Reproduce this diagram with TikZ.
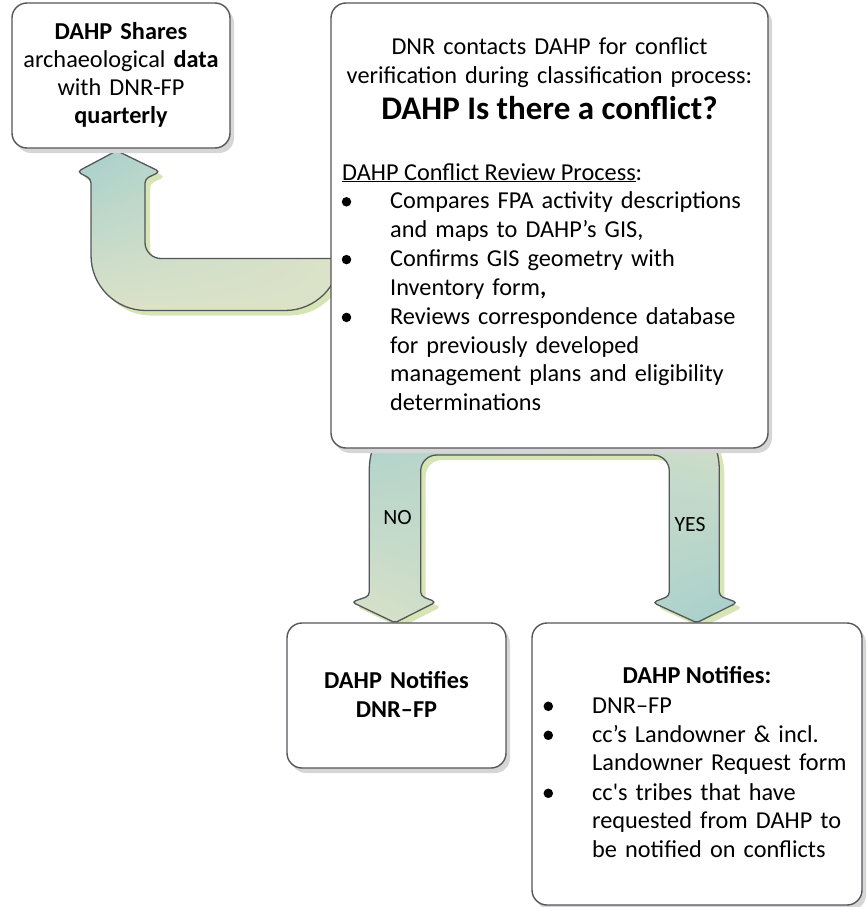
\documentclass[tikz,border=0pt]{standalone}
\usepackage{fontspec}
\setmainfont{Carlito}
\usetikzlibrary{shadows,shadings}
\definecolor{edgec}{RGB}{85,85,92}
\definecolor{tealc}{RGB}{165,207,204}
\definecolor{sagec}{RGB}{219,226,200}
\definecolor{leafc}{RGB}{213,229,179}
\definecolor{shadec}{RGB}{214,214,214}
\newcommand\bodyfont{\fontsize{24.3}{28.9}\selectfont}
\tikzset{
  card/.style={rectangle,draw=edgec,line width=1.4pt,rounded corners=15pt,fill=white,inner sep=0pt,
    drop shadow={shadow xshift=4pt,shadow yshift=-5pt,fill=shadec,opacity=1}},
  txt/.style={inner sep=0pt,font=\bodyfont},
  item/.style={txt,anchor=base west,text width=375pt,align=left},
  dot/.style={circle,fill=black,inner sep=0pt,minimum size=9.5pt},
  flow/.style={draw=edgec,line width=1.3pt,
    preaction={fill=leafc,draw=none,transform canvas={xshift=5pt,yshift=-5pt}}},
  lab/.style={inner sep=0pt,anchor=base,font=\fontsize{21.7}{26}\selectfont},
}
\begin{document}
\begin{tikzpicture}[x=1pt,y=-1pt]
  \useasboundingbox (0,0) rectangle (867,907);
  % block arrows go first, the boxes sit on top of them
  \path[flow,upper left=tealc,upper right=sagec,lower left=sagec,lower right=sagec]
    (340,258.5) [rounded corners=16pt] -- (145,258.5) [rounded corners=4pt] -- (145,179) -- (160,171.7)
    [rounded corners=2pt] -- (116.7,150.7) [rounded corners=4pt] -- (77.3,171.7) -- (91,179)
    [rounded corners=55pt] -- (91,310.5) -- (340,310.5) [sharp corners] -- cycle;
  \path[flow,upper left=tealc,upper right=sagec,lower left=sagec,lower right=tealc]
    (544,400) [rounded corners=70pt] -- (369.3,400) [rounded corners=4pt] -- (369.3,596) -- (351.7,602)
    [rounded corners=2pt] -- (395,622.7) [rounded corners=4pt] -- (436,602) -- (420.7,596)
    [rounded corners=16pt] -- (420.7,455) -- (669.3,455) [rounded corners=4pt] -- (669.3,596) -- (652.7,602.5)
    [rounded corners=2pt] -- (696.7,622.7) [rounded corners=4pt] -- (737.3,602.5) -- (719.3,596)
    [rounded corners=70pt] -- (719.3,400) [sharp corners] -- cycle;
  \node[lab] (nolab) at (397.5,524) {NO};
  \node[lab] (yeslab) at (690,531.7) {YES};

  % boxes
  \node[card,minimum width=218pt,minimum height=145pt] (share) at (121,75.5) {};
  \node[card,minimum width=437pt,minimum height=445pt] (check) at (549.5,225.5) {};
  \node[card,minimum width=219pt,minimum height=145pt] (nobox) at (396.5,695.5) {};
  \node[card,minimum width=330pt,minimum height=282pt] (yesbox) at (697,764) {};

  \node[txt,anchor=base,text width=214pt,align=center,font=\fontsize{24.3}{28}\selectfont] (sharetxt) at (121,39.5)
    {\textbf{DAHP Shares}\\archaeological \textbf{data}\\with DNR-FP\\\textbf{quarterly}};

  \node[txt,anchor=base,text width=430pt,align=center] (intro) at (549.5,55)
    {DNR contacts DAHP for conflict\\verification during classification process:};
  \node[anchor=base,inner sep=0pt,font=\fontsize{33}{40}\selectfont\bfseries] (ask) at (549.5,119.3)
    {DAHP Is there a conflict?};
  \node[txt,anchor=base west] (review) at (342,180) {\underline{DAHP Conflict Review Process}:};
  \node[item] (cmp) at (390,208.5) {Compares FPA activity descriptions\\and maps to DAHP’s GIS,};
  \node[item] (geo) at (390,266.3) {Confirms GIS geometry with\\Inventory form\textbf{,}};
  \node[item] (corr) at (390,324.1)
    {Reviews correspondence database\\for previously developed\\management plans and eligibility\\determinations};
  \foreach \y [count=\i] in {208.5,266.3,324.1}
    \node[dot] (mdot\i) at (346.5,\y-6.7) {};

  \node[txt,anchor=base,text width=210pt,align=center,font=\bodyfont\bfseries] (notxt) at (396.5,688.5)
    {DAHP Notifies\\DNR–FP};

  \node[txt,anchor=base,font=\bodyfont\bfseries] (yeshead) at (697,683.5) {DAHP Notifies:};
  \node[item,text width=268pt] (yes1) at (592,713) {DNR–FP};
  \node[item,text width=268pt] (yes2) at (592,742) {cc’s Landowner \& incl.\\Landowner Request form};
  \node[item,text width=268pt] (yes3) at (592,800)
    {cc\textquotesingle s tribes that have\\requested from DAHP to\\be notified on conflicts};
  \foreach \y [count=\i] in {713,742,800}
    \node[dot] (ydot\i) at (548.3,\y-6.7) {};
\end{tikzpicture}
\end{document}
